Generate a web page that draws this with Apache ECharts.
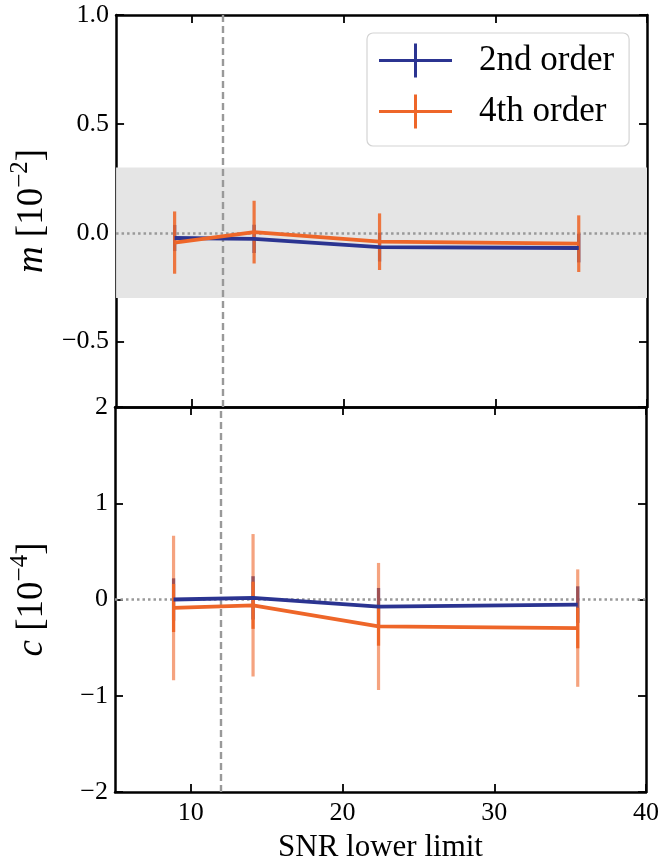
<!DOCTYPE html>
<html><head><meta charset="utf-8">
<script src="https://cdn.jsdelivr.net/npm/echarts@6/dist/echarts.min.js"></script>
<style>html,body{margin:0;padding:0;background:#fff}#c{width:662px;height:864px}</style>
</head><body><div id="c"></div>
<script>
// ---- data ----
const snr = [8.86, 14.1, 22.37, 35.5];
const m2 = [-0.024, -0.028, -0.066, -0.070];
const m2Err = [0.06, 0.065, 0.066, 0.066];
const m4 = [-0.045, 0.003, -0.041, -0.050];
const m4Err = [0.143, 0.144, 0.13, 0.13];
const c2 = [0.0, 0.017, -0.075, -0.053];
const c2Err = [0.22, 0.225, 0.195, 0.19];
const c4 = [-0.088, -0.06, -0.28, -0.297];
const c4ErrInner = [0.25, 0.245, 0.2, 0.21];
const c4ErrOuter = [0.75, 0.74, 0.66, 0.61];
const xTicks = [10, 20, 30, 40];
const mTicks = [-0.5, 0, 0.5, 1.0];
const cTicks = [-2, -1, 0, 1, 2];
const snrCut = 12;
const mBand = [-0.3, 0.3];
const seriesNames = ['2nd order', '4th order'];

const FONT = '"Liberation Serif", "Times New Roman", serif';
const BLUE = '#2B3491';
const ORANGE = '#EE6629';
const GRAY = '#999999';
const CROSS = 'path://M0,15.5 L73,15.5 L73,18.5 L0,18.5 Z M35,0 L38,0 L38,34 L35,34 Z';

const chart = echarts.init(document.getElementById('c'), null, {renderer: 'canvas'});

function errSeries(name, xi, yi, centers, errs, color, opacity, width, z) {
  return {
    type: 'custom', name: name, xAxisIndex: xi, yAxisIndex: yi, z: z, silent: true,
    data: snr.map((x, i) => [x, centers[i] - errs[i], centers[i] + errs[i]]),
    encode: {x: 0, y: [1, 2]},
    renderItem: function (params, api) {
      const a = api.coord([api.value(0), api.value(1)]);
      const b = api.coord([api.value(0), api.value(2)]);
      return {type: 'line', shape: {x1: a[0], y1: a[1], x2: b[0], y2: b[1]},
        style: {stroke: color, lineWidth: width, opacity: opacity}};
    }
  };
}
function lineSeries(name, xi, yi, vals, color, z) {
  return {
    type: 'line', name: name, xAxisIndex: xi, yAxisIndex: yi, z: z, silent: true,
    data: snr.map((x, i) => [x, vals[i]]),
    symbol: 'none', showSymbol: false,
    lineStyle: {color: color, width: 3.8},
    itemStyle: {color: color},
    animation: false
  };
}
const minus = s => String(s).replace('-', '\u2212');

function xAx(grid, pos, labels) {
  const ax = {
    gridIndex: grid, type: 'value', min: 5, max: 40, position: pos,
    axisLine: {show: true, onZero: false, lineStyle: {color: '#000', width: 2.5}},
    axisTick: {show: true, inside: true, length: 8, customValues: xTicks, lineStyle: {color: '#000', width: 1.8}},
    axisLabel: {show: false}, splitLine: {show: false}
  };
  if (labels) {
    ax.axisLabel = {show: true, customValues: xTicks, margin: 8, fontFamily: FONT, fontSize: 26, color: '#000'};
    ax.name = 'SNR lower limit';
    ax.nameLocation = 'middle';
    ax.nameGap = 40;
    ax.nameTextStyle = {fontFamily: FONT, fontSize: 31, color: '#000'};
  }
  return ax;
}
function yAx(grid, pos, min, max, ticks, fmt, name) {
  const ax = {
    gridIndex: grid, type: 'value', min: min, max: max, position: pos,
    axisLine: {show: true, onZero: false, lineStyle: {color: '#000', width: 2.5}},
    axisTick: {show: true, inside: true, length: 8, customValues: ticks, lineStyle: {color: '#000', width: 1.8}},
    axisLabel: {show: false}, splitLine: {show: false}
  };
  if (fmt) {
    ax.axisLabel = {show: true, customValues: ticks, margin: 7, fontFamily: FONT, fontSize: 26, color: '#000', formatter: fmt};
    ax.name = name;
    ax.nameLocation = 'middle';
    ax.nameGap = 58;
    ax.nameTextStyle = {
      fontFamily: FONT, fontSize: 37, color: '#000',
      rich: {
        i: {fontFamily: FONT, fontSize: 37, fontStyle: 'italic', color: '#000'},
        s: {fontFamily: FONT, fontSize: 25, color: '#000', padding: [0, 0, 24, 0]}
      }
    };
  }
  return ax;
}

const option = {
  backgroundColor: '#fff',
  animation: false,
  grid: [
    {left: 113, top: 15, width: 534, height: 392},
    {left: 113, top: 407, width: 534, height: 392}
  ],
  xAxis: [xAx(0, 'bottom', false), xAx(0, 'top', false), xAx(1, 'bottom', true), xAx(1, 'top', false)],
  yAxis: [
    yAx(0, 'left', -0.8, 1.0, mTicks, v => minus(Number(v).toFixed(1)), '{i|m} [10{s|\u22122}]'),
    yAx(0, 'right', -0.8, 1.0, mTicks, null),
    yAx(1, 'left', -2, 2, cTicks, v => minus(Math.round(v)), '{i|c} [10{s|\u22124}]'),
    yAx(1, 'right', -2, 2, cTicks, null)
  ],
  legend: {
    orient: 'vertical', left: 367, top: 33, padding: [10, 15, 17, 12], itemGap: 16,
    itemWidth: 73, itemHeight: 34, symbolKeepAspect: false, selectedMode: false,
    backgroundColor: '#fff', borderColor: '#d4d4d4', borderWidth: 1.2, borderRadius: 6,
    textStyle: {fontFamily: FONT, fontSize: 35, color: '#000', padding: [0, 0, 0, 22]},
    data: seriesNames.map(n => ({name: n, icon: CROSS}))
  },
  series: [
    // reference marks, top panel
    {
      type: 'line', name: 'refTop', xAxisIndex: 0, yAxisIndex: 0, data: [], silent: true,
      markArea: {silent: true, z: 1, itemStyle: {color: '#e5e5e5'}, label: {show: false},
        data: [[{yAxis: mBand[0]}, {yAxis: mBand[1]}]]},
      markLine: {silent: true, z: 2, symbol: 'none', label: {show: false}, animation: false,
        data: [
          {yAxis: 0, lineStyle: {color: GRAY, width: 2.5, type: [2.5, 3]}},
          {xAxis: snrCut, lineStyle: {color: GRAY, width: 2.4, type: [7, 4]}}
        ]}
    },
    {
      type: 'line', name: 'refBottom', xAxisIndex: 2, yAxisIndex: 2, data: [], silent: true,
      markLine: {silent: true, z: 2, symbol: 'none', label: {show: false}, animation: false,
        data: [
          {yAxis: 0, lineStyle: {color: GRAY, width: 2.5, type: [2.5, 3]}},
          {xAxis: snrCut, lineStyle: {color: GRAY, width: 2.4, type: [7, 4]}}
        ]}
    },
    // top panel
    errSeries('m2err', 0, 0, m2, m2Err, BLUE, 1, 3.2, 3),
    errSeries('m4err', 0, 0, m4, m4Err, ORANGE, 0.88, 3.2, 4),
    lineSeries(seriesNames[0], 0, 0, m2, BLUE, 5),
    lineSeries(seriesNames[1], 0, 0, m4, ORANGE, 6),
    // bottom panel
    errSeries('c2err', 2, 2, c2, c2Err, BLUE, 1, 3.2, 3),
    errSeries('c4errOuter', 2, 2, c4, c4ErrOuter, ORANGE, 0.6, 3.2, 4),
    errSeries('c4errInner', 2, 2, c4, c4ErrInner, ORANGE, 1, 3.2, 4),
    lineSeries(seriesNames[0], 2, 2, c2, BLUE, 5),
    lineSeries(seriesNames[1], 2, 2, c4, ORANGE, 6)
  ]
};
chart.setOption(option);
</script>
</body></html>
